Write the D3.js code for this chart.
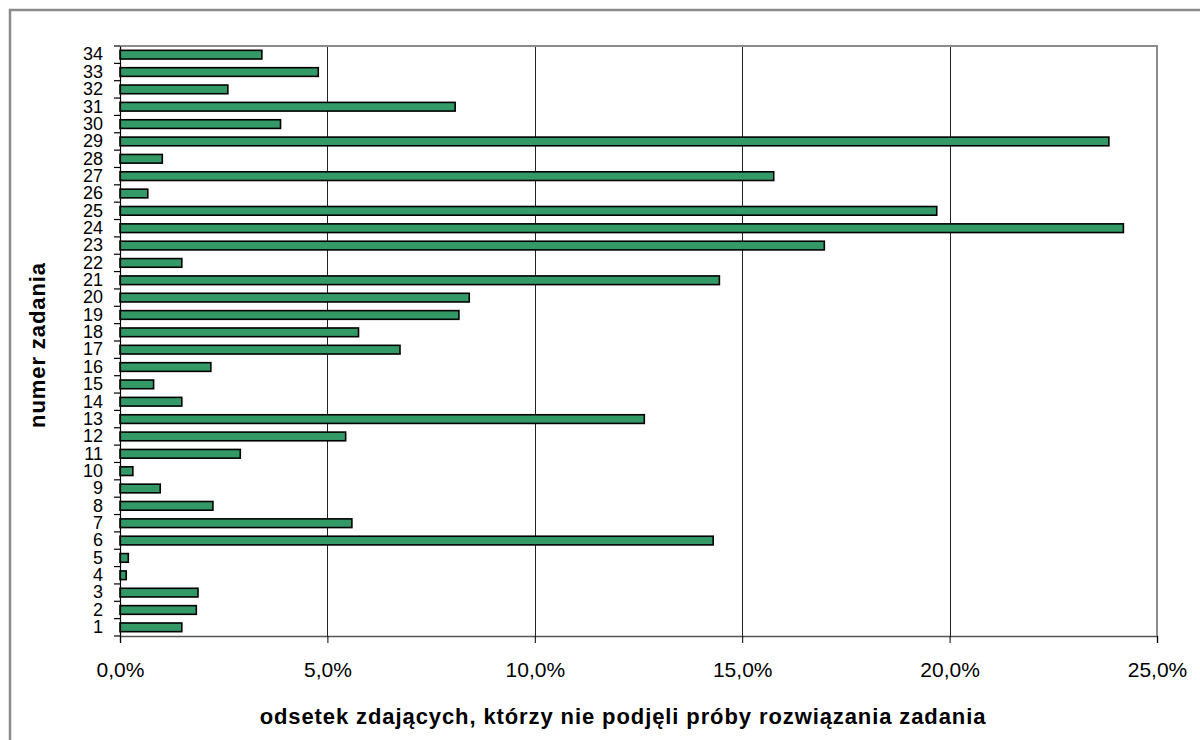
<!DOCTYPE html>
<html>
<head>
<meta charset="utf-8">
<script src="https://cdn.jsdelivr.net/npm/d3@7"></script>
<style>
  body { margin: 0; background: #fff; }
  text { font-family: Arial, "Liberation Sans", sans-serif; fill: #000; }
</style>
</head>
<body>
<div id="chart"></div>
<script>
// Task numbers (1..34) and share of students who did not attempt each task
var tasks = ["1","2","3","4","5","6","7","8","9","10","11","12","13","14","15","16","17",
  "18","19","20","21","22","23","24","25","26","27","28","29","30","31","32","33","34"];
var skipped = [1.49, 1.84, 1.88, 0.15, 0.20, 14.30, 5.59, 2.24, 0.97, 0.31, 2.90, 5.44, 12.64,
  1.49, 0.81, 2.19, 6.75, 5.75, 8.17, 8.42, 14.45, 1.49, 16.98, 24.19, 19.69, 0.67, 15.76,
  1.02, 23.84, 3.87, 8.08, 2.60, 4.78, 3.42];
var xTicks = [0, 5, 10, 15, 20, 25];

var xTitle = "odsetek zdających, którzy nie podjęli próby rozwiązania zadania";
var yTitle = "numer zadania";

// SVG area
var svgWidth = 1200;
var svgHeight = 740;

// plot area edges
var margin = { top: 46, right: 43, bottom: 104, left: 120 };
var chartWidth = svgWidth - margin.left - margin.right;
var chartHeight = svgHeight - margin.top - margin.bottom;

var svg = d3.select("#chart")
  .append("svg")
  .attr("width", svgWidth)
  .attr("height", svgHeight);

// outer chart frame (runs off the right and bottom of the picture)
svg.append("rect")
  .attr("x", 10)
  .attr("y", 10)
  .attr("width", 1300)
  .attr("height", 800)
  .attr("fill", "#fff")
  .attr("stroke", "#8c8c8c")
  .attr("stroke-width", 2.5);

var chartGroup = svg.append("g")
  .attr("transform", `translate(${margin.left}, ${margin.top})`);

var xScale = d3.scaleLinear()
  .domain([0, 25])
  .range([0, chartWidth]);

var yScale = d3.scaleBand()
  .domain(tasks.slice().reverse())
  .range([0, chartHeight])
  .paddingInner(0.5)
  .paddingOuter(0.25);

var pl = d3.formatLocale({ decimal: ",", thousands: " ", grouping: [3], currency: ["", " zł"] });
var pct = pl.format(".1f");

// vertical gridlines
chartGroup.selectAll(".grid")
  .data(xTicks.slice(1, -1))
  .enter()
  .append("line")
  .attr("x1", d => Math.round(xScale(d)) + 0.5)
  .attr("x2", d => Math.round(xScale(d)) + 0.5)
  .attr("y1", 0)
  .attr("y2", chartHeight)
  .attr("stroke", "#222")
  .attr("stroke-width", 1);

// plot border: top and right in grey
chartGroup.append("path")
  .attr("d", `M0,0H${chartWidth}V${chartHeight}`)
  .attr("fill", "none")
  .attr("stroke", "#8c8c8c")
  .attr("stroke-width", 2);

// bars
chartGroup.selectAll(".bar")
  .data(skipped)
  .enter()
  .append("rect")
  .attr("x", 0)
  .attr("y", (d, i) => yScale(tasks[i]))
  .attr("width", d => xScale(d))
  .attr("height", yScale.bandwidth())
  .attr("fill", "#339966")
  .attr("stroke", "#000")
  .attr("stroke-width", 1.6);

// bottom axis
var bottomAxis = d3.axisBottom(xScale)
  .tickValues(xTicks)
  .tickSize(7)
  .tickFormat(d => pct(d) + "%");

var xAxis = chartGroup.append("g")
  .attr("transform", `translate(0, ${chartHeight})`)
  .call(bottomAxis);
xAxis.select(".domain").attr("stroke", "#555").attr("stroke-width", 1.5);
xAxis.selectAll(".tick line").attr("stroke", "#000");
xAxis.selectAll(".tick text")
  .attr("y", 41)
  .attr("dy", 0)
  .style("font-size", "21px")
  .style("font-family", "Arial, 'Liberation Sans', sans-serif");

// left axis: labels at band centres, ticks between bands
var leftAxis = d3.axisLeft(yScale).tickSize(0).tickPadding(17);
var yAxis = chartGroup.append("g").call(leftAxis);
yAxis.select(".domain").attr("stroke", "#000").attr("stroke-width", 1.2);
yAxis.selectAll(".tick text")
  .style("font-size", "18px")
  .style("font-family", "Arial, 'Liberation Sans', sans-serif");

var step = yScale.step();
var bounds = tasks.map(t => yScale(t) - yScale.paddingInner() * step / 2);
bounds.push(chartHeight);
chartGroup.selectAll(".ytick")
  .data(bounds)
  .enter()
  .append("line")
  .attr("x1", -6)
  .attr("x2", 0)
  .attr("y1", d => d)
  .attr("y2", d => d)
  .attr("stroke", "#000")
  .attr("stroke-width", 1.2);

// axis titles
svg.append("text")
  .attr("x", 623)
  .attr("y", 724)
  .attr("text-anchor", "middle")
  .style("font-size", "22px")
  .style("font-weight", "bold")
  .style("letter-spacing", "0.9px")
  .text(xTitle);

svg.append("text")
  .attr("transform", "translate(45, 345) rotate(-90)")
  .attr("text-anchor", "middle")
  .style("font-size", "22px")
  .style("font-weight", "bold")
  .style("letter-spacing", "0.9px")
  .text(yTitle);
</script>
</body>
</html>
